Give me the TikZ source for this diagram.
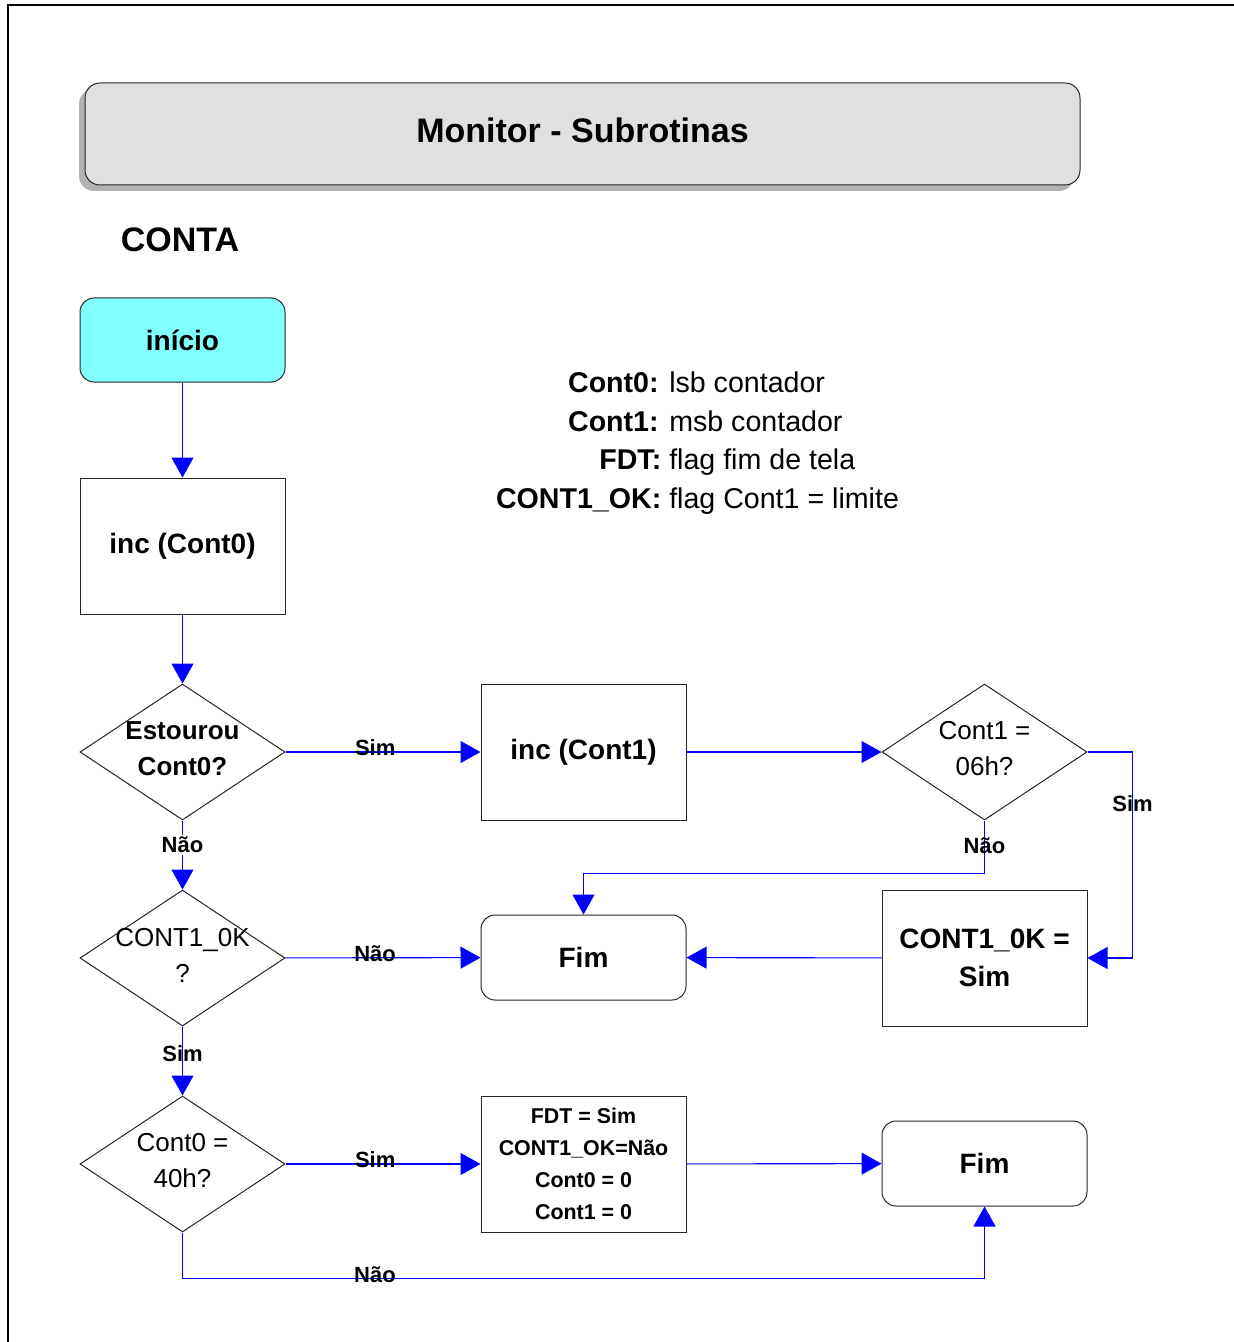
\documentclass[tikz,border=0pt]{standalone}
\usepackage{fontspec}
\setmainfont{Liberation Sans}
\usetikzlibrary{arrows.meta,positioning,shapes.geometric,shadows}
\definecolor{startcyan}{HTML}{80FFFF}
\definecolor{titlegray}{HTML}{E0E0E0}

\begin{document}
\begin{tikzpicture}[x=.5pt,y=-.5pt,>={Triangle[length=10pt,width=11pt]},
 base/.style={draw=black!85,line width=.5pt,minimum width=102.5pt,minimum height=68pt,inner sep=0pt,align=center,font=\bfseries\fontsize{14}{19}\selectfont},
 proc/.style={base},
 term/.style={base,rounded corners=7pt,minimum height=42.5pt},
 decis/.style={base,diamond},
 dtxt/.style={font=\fontsize{13}{18}\selectfont,align=center,inner sep=0pt,yshift=1.5pt},
 dtxtb/.style={dtxt,font=\bfseries\fontsize{13}{18}\selectfont},
 lab/.style={font=\bfseries\fontsize{11}{13}\selectfont,inner sep=1pt},
 arr/.style={->,draw=blue,line width=.55pt}]
\useasboundingbox (0,0) rectangle (1234,1342);
\draw[line width=1pt] (8,1342) -- (8,5) -- (1234,5);
\node[base,rounded corners=7.5pt,fill=titlegray,minimum width=497.5pt,minimum height=51pt,font=\bfseries\fontsize{17}{20}\selectfont,
 drop shadow={shadow xshift=-3pt,shadow yshift=-3pt,fill=gray!60,opacity=1}] (title) at (582.5,134) {\raisebox{2pt}[\height][\depth]{Monitor - Subrotinas}};
\node[font=\bfseries\fontsize{17}{20}\selectfont] (conta) at (180,240) {CONTA};
\node[font=\fontsize{14.3}{19.25}\selectfont] (legenda) at (697.5,443) {\begin{tabular}{@{}r@{ }l@{}}
 \textbf{Cont0:}&lsb contador\\ \textbf{Cont1:}&msb contador\\ \textbf{FDT:}&flag fim de tela\\ \textbf{CONT1\_OK:}&flag Cont1 = limite
 \end{tabular}};
\node[term,fill=startcyan,minimum height=42pt] (inicio) at (182.5,340) {início};
\node[proc] (inc0) at (182.5,546) {inc (Cont0)};
\node[decis,label={[dtxtb]center:{Estourou\\Cont0?}}] (d1) at (182.5,752) {};
\node[proc] (inc1) at (583.5,752) {inc (Cont1)};
\node[decis,label={[dtxt]center:{Cont1 =\\06h?}}] (d2) at (984.5,752) {};
\node[decis,label={[dtxt]center:{CONT1\_0K\\?}}] (d3) at (182.5,958) {};
\node[term] (fim1) at (583.5,957.5) {Fim};
\node[proc] (ok1) at (984.5,958) {CONT1\_0K =\\Sim};
\node[decis,label={[dtxt]center:{Cont0 =\\40h?}}] (d4) at (182.5,1164) {};
\node[proc,font=\bfseries\fontsize{10.7}{16}\selectfont] (fdt) at (583.5,1164) {FDT = Sim\\CONT1\_OK=Não\\Cont0 = 0\\Cont1 = 0};
\node[term] (fim2) at (984.5,1163.5) {Fim};
\draw[arr] (inicio) -- (inc0); \draw[arr] (inc0) -- (d1);
\draw[arr] (d1) -- node[lab,yshift=2pt,pos=.46]{Sim} (inc1);
\draw[arr] (inc1) -- (d2);
\draw[arr] (d2.east) -- ++(45,0) |- node[lab,pos=.125]{Sim} (ok1.east);
\draw[arr] (d2.south) -- node[lab,pos=.47]{Não} ++(0,53) -| (fim1.north);
\draw[arr] (ok1) -- (fim1);
\draw[arr] (d1) -- node[lab,fill=white,pos=.35]{Não} (d3);
\draw[arr] (d3) -- node[lab,yshift=2pt,pos=.46]{Não} (fim1);
\draw[arr] (d3) -- node[lab,pos=.39]{Sim} (d4);
\draw[arr] (d4) -- node[lab,yshift=2pt,pos=.46]{Sim} (fdt);
\draw[arr] (fdt) -- (fim2);
\draw[arr] (d4.south) -- ++(0,46) -| node[lab,yshift=2pt,pos=.12]{Não} (fim2.south);
\end{tikzpicture}
\end{document}
